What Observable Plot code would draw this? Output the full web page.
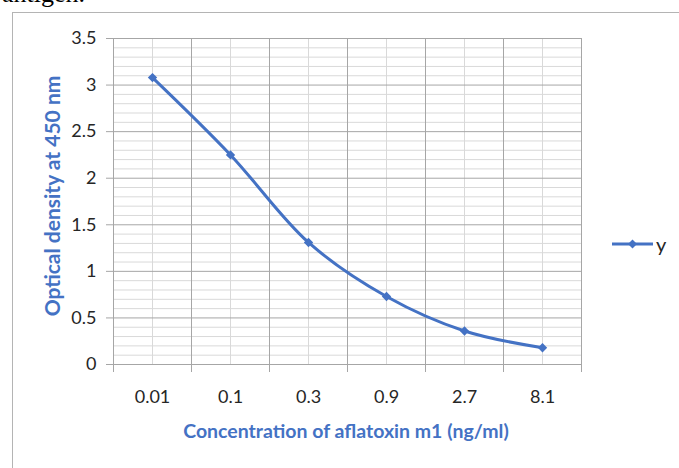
<!DOCTYPE html>
<html>
<head>
<meta charset="utf-8">
<script src="https://cdn.jsdelivr.net/npm/d3@7"></script>
<script src="https://cdn.jsdelivr.net/npm/@observablehq/plot@0.6"></script>
<style>
  html, body { margin: 0; padding: 0; background: #fff; }
  #wrap { position: relative; width: 679px; height: 468px; overflow: hidden; font-family: Lato, "Open Sans", sans-serif; }
  #frame { position: absolute; left: 12px; top: 12px; width: 720px; height: 520px; border: 1px solid #b4b4b4; box-sizing: border-box; }
  #chart { position: absolute; left: 0; top: 0; }
  #chart svg text { font-size: 18px; }
  #above { position: absolute; left: 2px; top: -21px; font-family: "Liberation Serif", "Times New Roman", serif; font-size: 26px; color: #000; white-space: nowrap; }
  #ylab { position: absolute; left: 51px; top: 196px; transform: translate(-50%, -50%) rotate(-90deg); white-space: nowrap; color: #4472c4; font-weight: bold; font-size: 21px; }
  #xlab { position: absolute; left: 346px; top: 430px; transform: translate(-50%, -50%); white-space: nowrap; color: #4472c4; font-weight: bold; font-size: 19.5px; }
  #legend { position: absolute; left: 611px; top: 232px; display: flex; align-items: center; color: #262626; font-size: 20px; }
</style>
</head>
<body>
<div id="wrap">
  <div id="above">antigen.</div>
  <div id="frame"></div>
  <div id="chart"></div>
  <div id="ylab">Optical density at 450 nm</div>
  <div id="xlab">Concentration of aflatoxin m1 (ng/ml)</div>
  <div id="legend">
    <svg width="44" height="20"><line x1="1" y1="10" x2="42" y2="10" stroke="#4472c4" stroke-width="3"/><path d="M21.5,5.5 L26,10 L21.5,14.5 L17,10 Z" fill="#4472c4"/></svg>
    <span style="margin-left:1px">y</span>
  </div>
</div>
<script>
const categories = ["0.01", "0.1", "0.3", "0.9", "2.7", "8.1"];
const values = [3.08, 2.25, 1.31, 0.73, 0.36, 0.18];
const yTicks = [0, 0.5, 1, 1.5, 2, 2.5, 3, 3.5];

const data = categories.map((c, i) => ({i, c, v: values[i]}));
const idx = categories.map((c, i) => i);
const bounds = d3.range(-0.5, categories.length, 1);
const minorY = d3.range(0, 36).map(k => k / 10).filter(v => !yTicks.some(t => Math.abs(t - v) < 1e-9));

const chart = Plot.plot({
  width: 679,
  height: 468,
  marginLeft: 113,
  marginRight: 98,
  marginTop: 38,
  marginBottom: 104,
  style: {fontFamily: "Lato, 'Open Sans', sans-serif", fontSize: "18px", color: "#262626", background: "transparent"},
  x: {type: "linear", domain: [-0.5, categories.length - 0.5]},
  y: {domain: [0, 3.5]},
  marks: [
    Plot.ruleY(minorY, {stroke: "#d9d9d9", strokeWidth: 1}),
    Plot.ruleX(idx, {stroke: "#d9d9d9", strokeWidth: 1}),
    Plot.ruleY(yTicks, {stroke: "#a6a6a6", strokeWidth: 1}),
    Plot.ruleX(bounds, {stroke: "#a6a6a6", strokeWidth: 1}),
    Plot.axisY({ticks: yTicks, tickSize: 7, tickPadding: 10, label: null, stroke: "#a6a6a6", fill: "#262626", tickFormat: d => String(d)}),
    Plot.axisX({ticks: bounds, tickSize: 8, tickFormat: () => "", label: null, stroke: "#a6a6a6"}),
    Plot.axisX({ticks: idx, tickSize: 0, tickPadding: 26, label: null, fill: "#262626", tickFormat: i => categories[i]}),
    Plot.line(data, {x: "i", y: "v", stroke: "#4472c4", strokeWidth: 3, curve: "catmull-rom"}),
    Plot.dot(data, {x: "i", y: "v", symbol: "diamond2", r: 4.2, fill: "#4472c4", stroke: "none"})
  ]
});
document.getElementById("chart").appendChild(chart);
</script>
</body>
</html>
